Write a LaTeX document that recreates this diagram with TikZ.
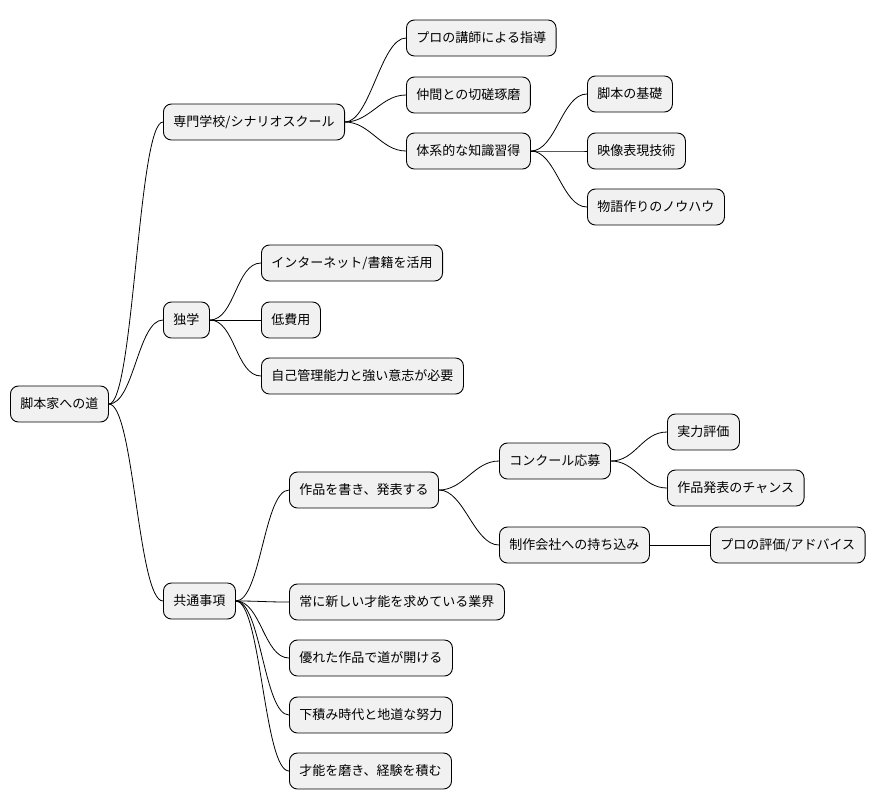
\documentclass[tikz,border=0pt]{standalone}
\usepackage{fontspec}
\setmainfont{Noto Sans CJK JP}
\definecolor{boxfill}{HTML}{F1F1F1}
\tikzset{
  idea/.style={draw=black, fill=boxfill, rounded corners=8pt, line width=0.9pt,
    minimum height=36pt, inner xsep=10pt, anchor=west, font=\fontsize{13pt}{15pt}\selectfont},
  link/.style={draw=black, line width=0.8pt},
}
\begin{document}
\begin{tikzpicture}[x=1pt,y=-1pt]
		\useasboundingbox (0,0) rectangle (885,809);
		% root
		\node[idea] (root) at (10,404) {脚本家への道};
		
		% level 1
		\node[idea] (school) at (163,122) {専門学校/シナリオスクール};
		\node[idea] (self) at (163,320) {独学};
		\node[idea] (common) at (163,601) {共通事項};
		
		% school
		\node[idea] (pro) at (406,38) {プロの講師による指導};
		\node[idea] (peer) at (406,95) {仲間との切磋琢磨};
		\node[idea] (system) at (406,151) {体系的な知識習得};
		\node[idea] (basic) at (587,94) {脚本の基礎};
		\node[idea] (visual) at (587,151) {映像表現技術};
		\node[idea] (story) at (587,207) {物語作りのノウハウ};
		
		% self study
		\node[idea] (net) at (261,263) {インターネット/書籍を活用};
		\node[idea] (cost) at (261,320) {低費用};
		\node[idea] (will) at (261,376) {自己管理能力と強い意志が必要};
		
		% common
		\node[idea] (write) at (289,490) {作品を書き、発表する};
		\node[idea] (new) at (289,602) {常に新しい才能を求めている業界};
		\node[idea] (good) at (289,658) {優れた作品で道が開ける};
		\node[idea] (hard) at (289,715) {下積み時代と地道な努力};
		\node[idea] (skill) at (289,771) {才能を磨き、経験を積む};
		\node[idea] (contest) at (499,461) {コンクール応募};
		\node[idea] (bring) at (499,545) {制作会社への持ち込み};
		\node[idea] (eval) at (667,432) {実力評価};
		\node[idea] (chance) at (667,488) {作品発表のチャンス};
		\node[idea] (advice) at (710,545) {プロの評価/アドバイス};
		
		% connectors
		\foreach \a/\b in {root/school,root/self,root/common,
		  school/pro,school/peer,school/system,
		  system/basic,system/visual,system/story,
		  self/net,self/cost,self/will,
		  common/write,common/new,common/good,common/hard,common/skill,
		  write/contest,write/bring,contest/eval,contest/chance,bring/advice}
		  \draw[link] (\a.east) .. controls +(25,0) and +(-25,0) .. (\b.west);
\end{tikzpicture}
\end{document}
